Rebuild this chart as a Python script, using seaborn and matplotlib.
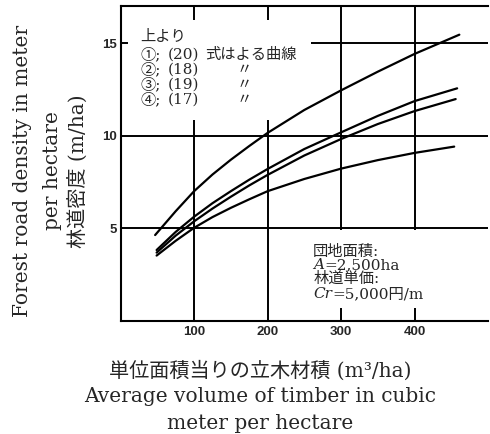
import matplotlib
matplotlib.use("Agg")
import matplotlib.pyplot as plt
from matplotlib.patches import Rectangle
import pandas as pd
import seaborn as sns

# Forest road density curves (top to bottom: equations 20, 18, 19, 17)
curve_names = ["①", "②", "③", "④"]
volume_1 = [47, 75, 100, 125, 150, 175, 200, 250, 300, 350, 400, 461]
density_1 = [4.63, 5.92, 7.0, 7.9, 8.7, 9.44, 10.15, 11.39, 12.45, 13.46, 14.42, 15.46]
volume_2 = [49, 75, 100, 125, 150, 175, 200, 250, 300, 350, 400, 458]
density_2 = [3.82, 4.8, 5.62, 6.35, 7.0, 7.62, 8.2, 9.28, 10.18, 11.07, 11.87, 12.56]
volume_3 = [49, 75, 100, 125, 150, 175, 200, 250, 300, 350, 400, 456]
density_3 = [3.68, 4.6, 5.37, 6.06, 6.7, 7.31, 7.88, 8.93, 9.82, 10.63, 11.33, 11.98]
volume_4 = [49, 75, 100, 125, 150, 175, 200, 250, 300, 350, 400, 454]
density_4 = [3.52, 4.32, 5.02, 5.6, 6.1, 6.56, 7.0, 7.66, 8.22, 8.68, 9.07, 9.41]

x_ticks = [100, 200, 300, 400]
y_ticks = [5, 10, 15]

legend_title = "上より"
legend_numbers = ["①;", "②;", "③;", "④;"]
legend_equations = ["(20)", "(18)", "(19)", "(17)"]
legend_first = "式はよる曲線"
ditto = "〃"

note_area_label = "団地面積:"
note_area_sym = "A"
note_area_value = "=2,500ha"
note_cost_label = "林道単価:"
note_cost_sym = "Cr"
note_cost_value = "=5,000円/m"

x_label_lines = ["単位面積当りの立木材積 (m³/ha)",
                 "Average volume of timber in cubic",
                 "meter per hectare"]
y_label_lines = ["Forest road density in meter",
                 "per hectare",
                 "林道密度 (m/ha)"]

frames = []
for name, xs, ys in zip(curve_names,
                        [volume_1, volume_2, volume_3, volume_4],
                        [density_1, density_2, density_3, density_4]):
    frames.append(pd.DataFrame({"volume": xs, "density": ys, "curve": name}))
df = pd.concat(frames, ignore_index=True)

sns.set_style("white")
plt.rcParams["font.family"] = ["DejaVu Serif", "Noto Sans CJK JP"]
plt.rcParams["axes.unicode_minus"] = False

W, H = 490, 434
fig = plt.figure(figsize=(W / 100, H / 100), dpi=100)
fig.patch.set_facecolor("white")
ax = fig.add_axes([120.6 / W, 1 - 320.7 / H, (488 - 120.6) / W, (320.7 - 6.2) / H])

sns.lineplot(data=df, x="volume", y="density", hue="curve",
             palette=["black"] * 4, estimator=None, sort=False,
             legend=False, linewidth=1.6, ax=ax, zorder=3)

ax.set_xlim(0, 500)
ax.set_ylim(0, 17)
ax.set_xticks(x_ticks)
ax.set_yticks(y_ticks)
ax.set_xticklabels([str(v) for v in x_ticks])
ax.set_yticklabels([str(v) for v in y_ticks])
for lab in ax.get_xticklabels() + ax.get_yticklabels():
    lab.set_fontfamily("Liberation Sans")
    lab.set_fontweight("bold")
    lab.set_fontsize(9.5)
ax.tick_params(axis="x", length=0, pad=4)
ax.tick_params(axis="y", length=0, pad=3)
ax.set_xlabel("")
ax.set_ylabel("")

ax.set_axisbelow(True)
ax.grid(True, color="black", linewidth=1.4)
for side in ["left", "top", "bottom"]:
    ax.spines[side].set_color("black")
    ax.spines[side].set_linewidth(1.5)
ax.spines["right"].set_visible(False)

# blank panels behind the annotation blocks
ax.add_patch(Rectangle((10, 10.85), 249.4, 5.4, facecolor="white",
                       edgecolor="none", zorder=1))
ax.add_patch(Rectangle((255, 0.69), 169, 4.21, facecolor="white",
                       edgecolor="none", zorder=1))

fs_small = 11
ax.text(26.4, 15.35, legend_title, fontsize=fs_small, ha="left", va="center", zorder=4)
row_y = [14.36, 13.55, 12.74, 11.93]
for i, (num, eq, yy) in enumerate(zip(legend_numbers, legend_equations, row_y)):
    ax.text(26.4, yy, num, fontsize=fs_small, ha="left", va="center", zorder=4)
    ax.text(64.7, yy, eq, fontsize=fs_small, ha="left", va="center", zorder=4)
    if i == 0:
        ax.text(115, yy, legend_first, fontsize=fs_small, ha="left", va="center", zorder=4)
    else:
        ax.text(168, yy, ditto, fontsize=fs_small, ha="center", va="center", zorder=4)

nx = 262
ax.text(nx, 3.70, note_area_label, fontsize=fs_small, ha="left", va="center", zorder=4)
t_a = ax.text(nx, 3.0, note_area_sym, fontsize=fs_small, style="italic",
              ha="left", va="center", zorder=4)
ax.annotate(note_area_value, xy=(1, 0.5), xycoords=t_a, fontsize=fs_small,
            ha="left", va="center", zorder=4)
ax.text(nx, 2.24, note_cost_label, fontsize=fs_small, ha="left", va="center", zorder=4)
t_c = ax.text(nx, 1.43, note_cost_sym, fontsize=fs_small, style="italic",
              ha="left", va="center", zorder=4)
ax.annotate(note_cost_value, xy=(1, 0.5), xycoords=t_c, fontsize=fs_small,
            ha="left", va="center", zorder=4)

# axis titles
for txt, yb in zip(x_label_lines, [377, 402, 429]):
    fig.text(260 / W, 1 - yb / H, txt, fontsize=14.5, ha="center", va="baseline")
for txt, xc in zip(y_label_lines, [23, 52, 78]):
    fig.text(xc / W, 1 - 171 / H, txt, fontsize=14.5, ha="center", va="center",
             rotation=90)

fig.savefig("out.png", dpi=100)
